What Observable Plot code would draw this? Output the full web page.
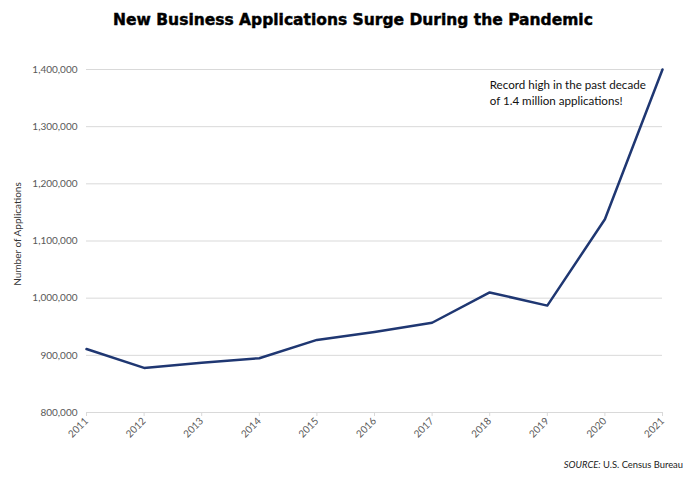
<!DOCTYPE html>
<html>
<head>
<meta charset="utf-8">
<script src="https://cdn.jsdelivr.net/npm/d3@7"></script>
<script src="https://cdn.jsdelivr.net/npm/@observablehq/plot@0.6"></script>
<style>
  html, body { margin: 0; padding: 0; background: #fff; }
  #wrap { width: 700px; height: 477px; position: relative; overflow: hidden; }
  #title {
    height: 40px; line-height: 41px; text-align: center;
    font-family: "DejaVu Sans", sans-serif; font-weight: bold; font-size: 15.5px;
    color: #000; -webkit-text-stroke: 0.45px #000; padding-left: 6px;
  }
  #source {
    position: absolute; right: 17px; top: 459px;
    font-family: Lato, sans-serif; font-size: 9.4px; color: #222;
  }
</style>
</head>
<body>
<div id="wrap">
  <div id="title">New Business Applications Surge During the Pandemic</div>
  <div id="chart"></div>
  <div id="source"><i>SOURCE:</i> U.S. Census Bureau</div>
</div>
<script>
// Annual business applications, United States
const years = [2011, 2012, 2013, 2014, 2015, 2016, 2017, 2018, 2019, 2020, 2021];
const applications = [911000, 878000, 887000, 895000, 927000, 941000, 957000, 1010000, 987000, 1138000, 1400000];
const yTicks = [800000, 900000, 1000000, 1100000, 1200000, 1300000, 1400000];
const yLabel = "Number of Applications";
const noteLines = ["Record high in the past decade", "of 1.4 million applications!"];
const noteYear = 2018;
const noteValue = 1386000;

const data = years.map((year, i) => ({year, value: applications[i]}));
const fmt = d3.format(",");

const chart = Plot.plot({
  width: 700,
  height: 410,
  marginTop: 29,
  marginBottom: 38,
  marginLeft: 86,
  marginRight: 38,
  style: {fontFamily: "Lato, sans-serif", fontSize: "10px", color: "#595959", background: "white"},
  x: {domain: [2011, 2021]},
  y: {domain: [800000, 1400000]},
  marks: [
    Plot.gridY(yTicks, {stroke: "#d9d9d9", strokeOpacity: 1}),
    Plot.ruleY([800000], {stroke: "#d9d9d9"}),
    Plot.axisY(yTicks, {tickSize: 0, tickPadding: 9, tickFormat: fmt, label: null}),
    Plot.text([yLabel], {
      frameAnchor: "left", textAnchor: "middle", rotate: -90,
      dx: -69, dy: -7, fill: "#333", fontSize: 10
    }),
    Plot.axisX(years, {
      tickSize: 4, tickPadding: 3, tickRotate: -45, tickFormat: d => String(d),
      stroke: "#d9d9d9", label: null
    }),
    Plot.line(data, {x: "year", y: "value", stroke: "#1f3772", strokeWidth: 2.5}),
    Plot.text([noteLines.join("\n")], {
      x: noteYear, y: noteValue, textAnchor: "start", lineAnchor: "top",
      fontSize: 11.6, fill: "#111", lineHeight: 1.38
    })
  ]
});
document.getElementById("chart").appendChild(chart);
</script>
</body>
</html>
